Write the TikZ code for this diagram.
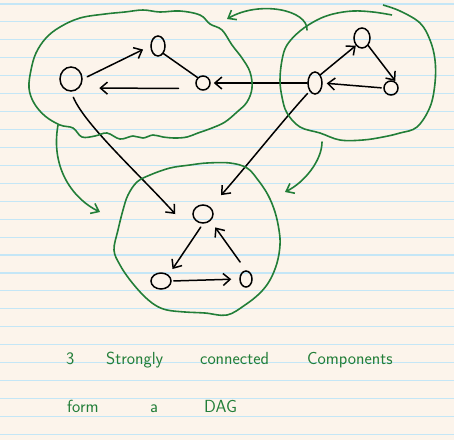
\documentclass[tikz,border=0pt]{standalone}
\usetikzlibrary{arrows.meta,shapes.geometric}
\definecolor{paper}{RGB}{252,244,235}
\definecolor{ruleblue}{RGB}{196,230,246}
\definecolor{inkgreen}{RGB}{34,126,56}
\tikzset{
  vtx/.style={ellipse,draw,line width=1.5pt,inner sep=0pt},
  edgearr/.style={-{Straight Barb[length=7pt,width=12pt,line width=1.5pt]},line width=1.5pt,line cap=round},
  edgeplain/.style={line width=1.5pt,line cap=round},
  blob/.style={draw=inkgreen,line width=1.6pt},
  grnarr/.style={-{Straight Barb[length=7pt,width=11pt,line width=1.6pt]},draw=inkgreen,line width=1.6pt,line cap=round},
  ruleline/.style={draw=ruleblue,line width=1.1pt},
  word/.style={anchor=base west,inner sep=0pt,text=inkgreen,font=\sffamily\fontsize{17.5}{20}\selectfont}
}

\begin{document}
\begin{tikzpicture}[x=1pt,y=-1pt]

  % --- paper ---
  \fill[paper] (0,0) rectangle (454,440);
  \useasboundingbox (0,0) rectangle (454,440);
  \foreach \k in {0,...,24}
    \draw[ruleline] (0,{4+17.93*\k}) -- (454,{4+17.93*\k});

  % --- left component ---
  \node[vtx,minimum width=22pt,minimum height=24pt] (A) at (71,79) {};
  \node[vtx,minimum width=14pt,minimum height=20pt] (B) at (158,46) {};
  \node[vtx,minimum width=14pt,minimum height=14pt] (C) at (203,83) {};
  \draw[edgearr,shorten <=5pt,shorten >=8pt] (A.east) -- (B.west);
  \draw[edgeplain] (B.south east) -- (C.north west);
  \draw[edgearr,shorten <=19pt,shorten >=20pt] (C.south west) -- (A.south east);

  % --- right component ---
  \node[vtx,minimum width=14pt,minimum height=22pt] (D) at (315,83) {};
  \node[vtx,minimum width=16pt,minimum height=20pt] (E) at (362,38) {};
  \node[vtx,minimum width=14pt,minimum height=14pt] (F) at (391,88) {};
  \draw[edgearr] (D.north east) -- (E.south west);
  \draw[edgearr,shorten >=2pt] (E.south east) -- (F.north east);
  \draw[edgearr,shorten <=2pt,shorten >=4pt] (F.west) -- (D.east);
  \draw[edgearr,shorten >=3pt] (D.west) -- (C.east);

  % --- bottom component ---
  \node[vtx,minimum width=20pt,minimum height=18pt] (G) at (203,214) {};
  \node[vtx,minimum width=20pt,minimum height=16pt] (H) at (161,281) {};
  \node[vtx,minimum width=12pt,minimum height=16pt] (I) at (246,279) {};
  \draw[edgearr,shorten <=4pt,shorten >=7pt] (G.south) -- (H.north east);
  \draw[edgearr,shorten <=2pt,shorten >=8pt] (H.east) -- (I.west);
  \draw[edgearr,shorten <=10pt,shorten >=8pt] (I.north) -- (G.south east);

  % --- edges between components ---
  \draw[edgearr,shorten <=6pt] (A.south) .. controls (85,125) and (140,175) .. ([xshift=-17pt]G.west);
  \draw[edgearr,shorten <=3pt,shorten >=16pt] (D.south west) .. controls (285,118) and (245,168) .. (G.north east);

  % --- green outlines ---
  \draw[blob] plot[smooth cycle,tension=0.6] coordinates {
    (29,88) (31,70) (36,53) (46,38) (60,27) (80,18) (105,14) (125,12) (143,10)
    (160,12) (180,11) (200,15) (210,24) (222,30) (232,45) (242,58) (250,72)
    (252,88) (247,102) (237,112) (225,122) (212,128) (198,133) (187,137)
    (175,138) (163,137) (153,135) (143,138) (133,136) (120,139) (107,133)
    (95,136) (82,137) (73,128) (60,125) (45,116) (34,103)};
  \draw[blob] plot[smooth,tension=0.6] coordinates {
    (383,5) (400,11) (420,23) (430,40) (435,60) (435,83) (430,107) (417,127)
    (400,133) (383,137) (363,140) (340,140) (320,133) (300,127) (287,113)
    (282,97) (280,80) (282,60) (287,45) (300,31) (317,20) (333,14) (353,11)
    (373,12) (392,15)};
  \draw[blob] plot[smooth cycle,tension=0.6] coordinates {
    (207,163) (190,165) (170,168) (150,175) (137,182) (128,195) (123,210)
    (118,230) (114,250) (120,265) (130,280) (143,295) (155,305) (167,310)
    (185,312) (205,313) (227,315) (245,305) (260,293) (270,280) (277,263)
    (280,245) (279,230) (275,212) (268,195) (258,180) (247,168) (230,163)};

  % --- green arrows ---
  \coordinate (rtop) at (307,30);
  \coordinate (ltop) at (227,19);
  \coordinate (lbot) at (58,125);
  \coordinate (bl) at (100,212);
  \coordinate (rbot) at (322,142);
  \coordinate (br) at (285,192);
  \draw[grnarr] (rtop) .. controls (308,10) and (260,0) .. (ltop);
  \draw[grnarr] (lbot) .. controls (50,170) and (75,200) .. (bl);
  \draw[grnarr] (rbot) .. controls (322,160) and (305,182) .. (br);

  % --- caption ---
  \node[word] (w1) at (66,364) {3};
  \node[word] (w2) at (106,364) {Strongly};
  \node[word] (w3) at (200,364) {connected};
  \node[word] (w4) at (307,364) {Components};
  \node[word] (w5) at (67,412) {form};
  \node[word] (w6) at (150,412) {a};
  \node[word] (w7) at (204,412) {DAG};

\end{tikzpicture}
\end{document}
